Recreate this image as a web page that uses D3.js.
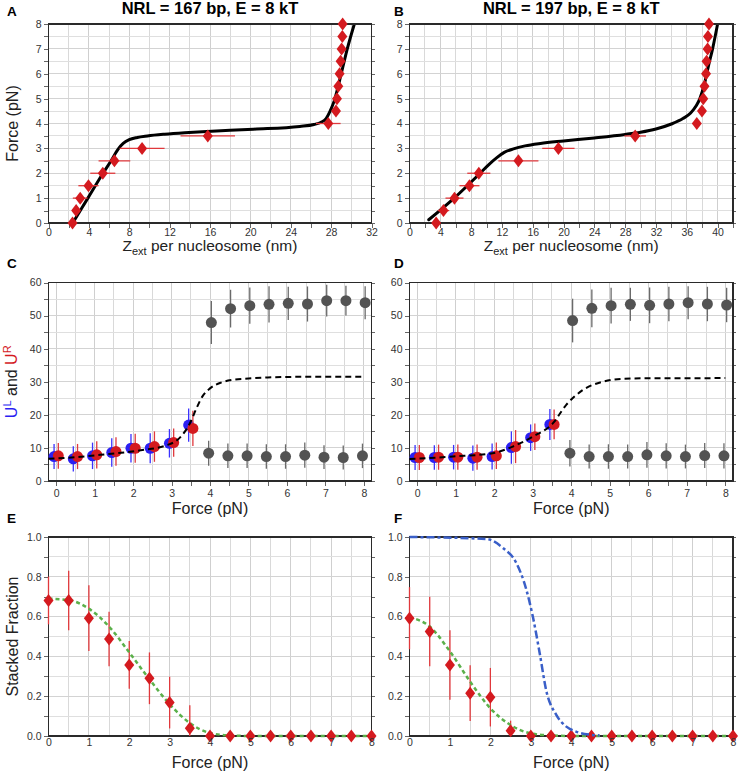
<!DOCTYPE html>
<html><head><meta charset="utf-8">
<script src="https://cdn.jsdelivr.net/npm/d3@7"></script>
<style>
body{margin:0;background:#fff;}
text{font-family:"Liberation Sans",Arial,Helvetica,sans-serif;}
</style></head>
<body>
<script>
// ---------------- DATA ----------------
const forceAll = [0,0.5,1,1.5,2,2.5,3,3.5,4,4.5,5,5.5,6,6.5,7,7.5,8];
const forceLow = [0,0.5,1,1.5,2,2.5,3,3.5];
const forceHigh = [4,4.5,5,5.5,6,6.5,7,7.5,8];

// Panel A (NRL 167)
const zA    = [2.38,2.74,3.14,3.96,5.38,6.53,9.27,15.78,27.72,28.48,28.58,28.71,28.84,28.94,29.04,29.11,29.14];
const zAErr = [0.3,0.3,0.73,1.0,1.24,1.57,2.23,2.7,1.22,0.3,0.3,0.3,0.3,0.3,0.3,0.3,0.3];
const curveAz = [2.4,3.9,5.4,6.2,6.9,7.4,8.0,8.8,9.8,11.5,13.5,15.7,20.3,24.9,26.3,27.0,27.5,27.9,28.3,29.0,29.6,30.3];
const curveAf = [0,1,2,2.5,2.97,3.2,3.35,3.44,3.5,3.57,3.63,3.68,3.77,3.88,3.96,4.05,4.2,4.5,4.9,6,7,8];

// Panel B (NRL 197)
const zB    = [3.46,4.41,5.84,7.78,9.0,14.14,19.33,29.3,37.3,37.97,38.14,38.3,38.5,38.57,38.7,38.75,38.88];
const zBErr = [0.3,0.75,1.17,1.3,1.5,2.6,2.1,1.4,0.3,0.3,0.3,0.3,0.3,0.3,0.3,0.3,0.3];
const curveBz = [2.5,5.8,9.1,10.3,11.3,12.3,13.5,15,17,20,24,28,30,32,34,35.5,36.5,37.2,37.7,38.3,38.8,39.35,40.0];
const curveBf = [0.13,1.0,1.98,2.35,2.62,2.84,2.98,3.1,3.2,3.3,3.42,3.56,3.65,3.78,3.98,4.2,4.42,4.7,5.0,5.6,6.3,7.0,8.0];

// Panel C
const ULc = [7.4,6.7,7.6,8.6,9.9,9.9,11.4,16.9];
const ULcErr = [3.8,3.8,4.0,4.3,4.3,4.5,4.3,5.0];
const URc = [7.6,7.4,7.9,8.9,9.9,10.4,11.6,15.9];
const URcErr = [3.9,3.8,4.1,4.3,4.4,4.6,4.3,5.3];
const upperC = [47.9,52.1,53.0,53.4,53.7,53.5,54.5,54.5,53.9];
const upperCErr = [6.5,5.7,5.5,5.5,5.0,5.3,4.8,4.5,5.0];
const lowerC = [8.4,7.6,7.6,7.4,7.4,7.8,7.2,7.1,7.6];
const lowerCErr = [3.8,3.7,3.7,3.7,3.7,3.8,3.6,3.6,3.7];
const fitCf = [-0.2,0.5,1.15,2.2,2.9,3.15,3.35,3.5,3.65,3.8,4.0,4.3,4.6,5.0,5.5,6.5,8.0];
const fitCu = [6.7,7.2,7.9,9.3,10.9,12.4,15.0,18.0,22.0,25.5,28.0,29.8,30.6,31.0,31.3,31.5,31.5];

// Panel D
const ULd = [7.1,7.1,7.2,6.9,7.4,10.1,13.1,17.1];
const ULdErr = [3.8,3.7,3.7,3.8,3.9,4.9,4.0,4.7];
const URd = [7.1,7.2,7.2,7.2,7.6,10.4,13.4,17.1];
const URdErr = [3.8,3.8,3.8,3.8,4.0,5.0,4.0,4.5];
const upperD = [48.5,52.2,53.0,53.4,53.1,53.5,53.9,53.5,53.2];
const upperDErr = [6.6,5.7,5.4,5.0,5.4,5.2,5.0,5.2,5.2];
const lowerD = [8.4,7.4,7.4,7.4,7.9,7.6,7.4,7.7,7.6];
const lowerDErr = [4.0,3.6,3.7,3.6,3.9,3.8,3.6,3.8,3.8];
const fitDf = [-0.2,0.93,1.96,2.48,3.0,3.52,3.87,4.3,4.82,5.34,6.0,8.0];
const fitDu = [6.65,7.4,8.4,10.4,13.4,17.4,23,27.5,30.0,30.9,31.05,31.1];

// Panel E
const sfE = [0.681,0.681,0.592,0.487,0.357,0.29,0.168,0.039,0,0,0,0,0,0,0,0,0];
const sfEErr = [0.12,0.15,0.165,0.137,0.12,0.13,0.13,0.115,0,0,0,0,0,0,0,0,0];
const fitEf = [0,0.5,1,1.5,2,2.5,3,3.5,4,4.5,5,8];
const fitEs = [0.69,0.683,0.64,0.55,0.42,0.285,0.16,0.065,0.015,0.003,0,0];

// Panel F
const sfF = [0.592,0.525,0.357,0.215,0.195,0.027,0,0,0,0,0,0,0,0,0,0,0];
const sfFErr = [0.156,0.175,0.175,0.14,0.147,0.05,0,0,0,0,0,0,0,0,0,0,0];
const fitFf = [0,0.5,1,1.5,2,2.5,3,3.5,4,8];
const fitFs = [0.597,0.55,0.425,0.273,0.139,0.055,0.013,0.003,0,0];
const modelFf = [0,1.9,2.31,2.64,2.89,3.05,3.22,3.38,3.63,3.88,4.12,4.45,4.7];
const modelFs = [1,0.99,0.945,0.87,0.735,0.6,0.416,0.23,0.106,0.047,0.022,0.007,0.003];

// Tick labels
const zTicksA = [0,4,8,12,16,20,24,28,32];
const zTicksB = [0,4,8,12,16,20,24,28,32,36,40];
const fTicks8 = [0,1,2,3,4,5,6,7,8];
const uTicks = [0,10,20,30,40,50,60];
const sTicks = [0,0.2,0.4,0.6,0.8,1.0];

const titles = ["NRL = 167 bp, E = 8 kT","NRL = 197 bp, E = 8 kT"];
const letters = ["A","B","C","D","E","F"];

// ---------------- DRAW ----------------
const W=739,H=774;
const svg=d3.select("body").append("svg").attr("width",W).attr("height",H);

const RED="#d41a1f", BLUE="#2b1ff2", GRAY="#535353";
const colL=[48.5,371.5], colR=[409.5,733];
const rows=[[24,223],[282.5,481],[537,736]];
let clipId=0;

function makePanel(c){
  const x=d3.scaleLinear().domain(c.xd).range([c.l,c.r]);
  const y=d3.scaleLinear().domain(c.yd).range([c.b,c.t]);
  const g=svg.append("g");
  const grid=g.append("g").attr("shape-rendering","crispEdges");
  grid.selectAll(".gx").data(c.xGrid).join("line")
    .attr("x1",d=>x(d)).attr("x2",d=>x(d)).attr("y1",c.t).attr("y2",c.b)
    .attr("stroke",d=>c.xTicks.includes(d)?"#cfcfcf":"#d9d9d9").attr("stroke-width",1);
  grid.selectAll(".gy").data(c.yGrid).join("line")
    .attr("y1",d=>y(d)).attr("y2",d=>y(d)).attr("x1",c.l).attr("x2",c.r)
    .attr("stroke",d=>c.yTicks.includes(d)?"#d3d3d3":"#dfdfdf").attr("stroke-width",1);
  const fmtY=c.yFmt||(d=>d);
  const ax=g.append("g").attr("transform",`translate(${c.l},0)`)
    .call(d3.axisLeft(y).tickValues(c.yGrid).tickSize(5).tickPadding(2)
      .tickFormat(d=>c.yTicks.includes(d)?fmtY(d):""));
  const axR=g.append("g").attr("transform",`translate(${c.r},0)`)
    .call(d3.axisRight(y).tickValues(c.yGrid).tickSize(3).tickFormat(""));
  const axB=g.append("g").attr("transform",`translate(0,${c.b})`)
    .call(d3.axisBottom(x).tickValues(c.xGrid).tickSize(c.xTickSize).tickPadding(c.xPad)
      .tickFormat(d=>c.xTicks.includes(d)?d:""));
  [ax,axR,axB].forEach(a=>{
    a.select(".domain").remove();
    a.selectAll(".tick line").attr("stroke","#666").attr("shape-rendering","crispEdges");
    a.selectAll("text").attr("fill","#333").style("font-size","10.5px")
      .style("font-family","'Liberation Sans',Arial,sans-serif");
  });
  const id="clip"+(clipId++);
  svg.append("clipPath").attr("id",id).append("rect")
    .attr("x",c.l).attr("y",c.t).attr("width",c.r-c.l).attr("height",c.b-c.t);
  const plot=g.append("g");
  const clipped=plot.append("g").attr("clip-path",`url(#${id})`);
  g.append("rect").attr("x",c.l).attr("y",c.t).attr("width",c.r-c.l).attr("height",c.b-c.t)
    .attr("fill","none").attr("stroke","#2a2a2a").attr("stroke-width",1.2).attr("shape-rendering","crispEdges");
  const top=g.append("g");
  return {x,y,g,clipped,top,axB};
}

function diamond(sel,cx,cy){
  sel.append("path").attr("d",`M${cx},${cy-6.5}L${cx+5},${cy}L${cx},${cy+6.5}L${cx-5},${cy}Z`).attr("fill",RED);
}

function lineGen(x,y){return d3.line().x(d=>x(d[0])).y(d=>y(d[1])).curve(d3.curveMonotoneX);}

// ---- A & B
[[colL,zA,zAErr,curveAz,curveAf,[0,32],zTicksA,d3.range(0,33,2)],
 [colR,zB,zBErr,curveBz,curveBf,[0,42],zTicksB,d3.range(0,43,2)]].forEach((p,i)=>{
  const [col,zs,ze,cz,cf,xd,xt,xg]=p;
  const P=makePanel({l:col[0],r:col[1],t:rows[0][0],b:rows[0][1],xd,yd:[0,8],
    xGrid:xg,xTicks:xt,yGrid:d3.range(0,8.01,0.5),yTicks:fTicks8,xTickSize:5,xPad:1});
  P.clipped.append("path").datum(cz.map((z,k)=>[z,cf[k]]))
    .attr("d",lineGen(P.x,P.y)).attr("fill","none").attr("stroke","#000").attr("stroke-width",3)
    .attr("stroke-linecap","round");
  const t=P.top;
  forceAll.forEach((f,k)=>{
    t.append("line").attr("x1",P.x(zs[k]-ze[k])).attr("x2",P.x(zs[k]+ze[k]))
      .attr("y1",P.y(f)).attr("y2",P.y(f)).attr("stroke","#e0383c").attr("stroke-width",1.3);
  });
  forceAll.forEach((f,k)=>diamond(t,P.x(zs[k]),P.y(f)));
  const cx=(col[0]+col[1])/2;
  svg.append("text").attr("x",cx).attr("y",13.5).attr("text-anchor","middle")
    .style("font-size","16.5px").style("font-weight","bold").text(titles[i]);
  const xl=svg.append("text").attr("x",cx).attr("y",251).attr("text-anchor","middle").style("font-size","15.5px").attr("fill","#222");
  xl.append("tspan").text("Z");
  xl.append("tspan").attr("dy",4).style("font-size","11px").text("ext");
  xl.append("tspan").attr("dy",-4).text(" per nucleosome (nm)");
  if(i===0){
    svg.append("text").attr("transform",`translate(17.5,${(rows[0][0]+rows[0][1])/2}) rotate(-90)`)
      .attr("text-anchor","middle").style("font-size","16px").attr("fill","#222").text("Force (pN)");
  }
});

// ---- C & D
[[colL,ULc,ULcErr,URc,URcErr,upperC,upperCErr,lowerC,lowerCErr,fitCf,fitCu],
 [colR,ULd,ULdErr,URd,URdErr,upperD,upperDErr,lowerD,lowerDErr,fitDf,fitDu]].forEach((p,i)=>{
  const [col,ul,ule,ur,ure,up,upe,lo,loe,ff,fu]=p;
  const P=makePanel({l:col[0],r:col[1],t:rows[1][0],b:rows[1][1],xd:[-0.2,8.2],yd:[0,60],
    xGrid:d3.range(0,8.01,0.5),xTicks:fTicks8,yGrid:d3.range(0,60.1,5),yTicks:uTicks,xTickSize:5,xPad:3.5});
  const t=P.top;
  const dx=0.055, dg=0.035;
  const bar=(fx,v,e,col,w)=>t.append("line").attr("x1",P.x(fx)).attr("x2",P.x(fx))
     .attr("y1",P.y(v-e)).attr("y2",P.y(v+e)).attr("stroke",col).attr("stroke-width",w||1.3);
  forceHigh.forEach((f,k)=>{bar(f+dg,up[k],upe[k],"#6a6a6a");bar(f-dg,lo[k],loe[k],"#6a6a6a");});
  forceHigh.forEach((f,k)=>{
    t.append("circle").attr("cx",P.x(f+dg)).attr("cy",P.y(up[k])).attr("r",5.5).attr("fill",GRAY);
    t.append("circle").attr("cx",P.x(f-dg)).attr("cy",P.y(lo[k])).attr("r",5.5).attr("fill",GRAY);
  });
  forceLow.forEach((f,k)=>{bar(f-dx,ul[k],ule[k],"#3a32ff");});
  forceLow.forEach((f,k)=>{t.append("circle").attr("cx",P.x(f-dx)).attr("cy",P.y(ul[k])).attr("r",5.5).attr("fill",BLUE);});
  forceLow.forEach((f,k)=>{bar(f+dx,ur[k],ure[k],"#e0383c");});
  forceLow.forEach((f,k)=>{t.append("circle").attr("cx",P.x(f+dx)).attr("cy",P.y(ur[k])).attr("r",5.5).attr("fill",RED);});
  t.append("path").datum(ff.map((f,k)=>[f,fu[k]])).attr("d",lineGen(P.x,P.y))
    .attr("fill","none").attr("stroke","#000").attr("stroke-width",2).attr("stroke-dasharray","6,4");
  const cx=(col[0]+col[1])/2;
  svg.append("text").attr("x",cx).attr("y",514).attr("text-anchor","middle").style("font-size","16px").attr("fill","#222").text("Force (pN)");
  if(i===0){
    const yl=svg.append("text").attr("transform",`translate(16.5,${(rows[1][0]+rows[1][1])/2}) rotate(-90)`)
      .attr("text-anchor","middle").style("font-size","16px");
    yl.append("tspan").attr("fill",BLUE).text("U");
    yl.append("tspan").attr("fill",BLUE).attr("dy",-6).style("font-size","11px").text("L");
    yl.append("tspan").attr("fill","#222").attr("dy",6).text(" and ");
    yl.append("tspan").attr("fill",RED).text("U");
    yl.append("tspan").attr("fill",RED).attr("dy",-6).style("font-size","11px").text("R");
  }
});

// ---- E & F
[[colL,sfE,sfEErr,fitEf,fitEs,null,null],[colR,sfF,sfFErr,fitFf,fitFs,modelFf,modelFs]].forEach((p,i)=>{
  const [col,sv,se,ff,fs,mf,ms]=p;
  const P=makePanel({l:col[0],r:col[1],t:rows[2][0],b:rows[2][1],xd:[0,8],yd:[0,1],
    xGrid:d3.range(0,8.01,0.5),xTicks:fTicks8,yGrid:d3.range(0,10.1,1).map(v=>Math.round(v)/10),
    yTicks:sTicks,xTickSize:0,xPad:2.5,yFmt:d3.format(".1f")});
  if(mf){
    P.g.append("path").datum(mf.map((f,k)=>[f,ms[k]])).attr("d",lineGen(P.x,P.y))
      .attr("fill","none").attr("stroke","#3a5fc8").attr("stroke-width",2.5).attr("stroke-dasharray","8,3,3,3");
  }
  const t=P.top;
  forceAll.forEach((f,k)=>{
    if(se[k]>0) t.append("line").attr("x1",P.x(f)).attr("x2",P.x(f))
      .attr("y1",P.y(Math.max(0,sv[k]-se[k]))).attr("y2",P.y(sv[k]+se[k])).attr("stroke","#e0383c").attr("stroke-width",1.3);
  });
  t.append("path").datum(ff.map((f,k)=>[f,fs[k]])).attr("d",lineGen(P.x,P.y))
    .attr("fill","none").attr("stroke","#5bb04a").attr("stroke-width",2.5).attr("stroke-dasharray","4,3");
  forceAll.forEach((f,k)=>diamond(t,P.x(f),P.y(sv[k])));
  // keep x tick labels visible above markers
  P.axB.raise();
  const cx=(col[0]+col[1])/2;
  svg.append("text").attr("x",cx).attr("y",768).attr("text-anchor","middle").style("font-size","16px").attr("fill","#222").text("Force (pN)");
  if(i===0){
    svg.append("text").attr("transform",`translate(17.5,${(rows[2][0]+rows[2][1])/2}) rotate(-90)`)
      .attr("text-anchor","middle").style("font-size","16px").attr("fill","#222").text("Stacked Fraction");
  }
});

const letterPos=[[7,16],[394,16],[7,268],[394,268],[7,523],[394,523]];
letters.forEach((L,i)=>svg.append("text").attr("x",letterPos[i][0]).attr("y",letterPos[i][1])
  .style("font-size","13.5px").style("font-weight","bold").text(L));
</script>
</body></html>
